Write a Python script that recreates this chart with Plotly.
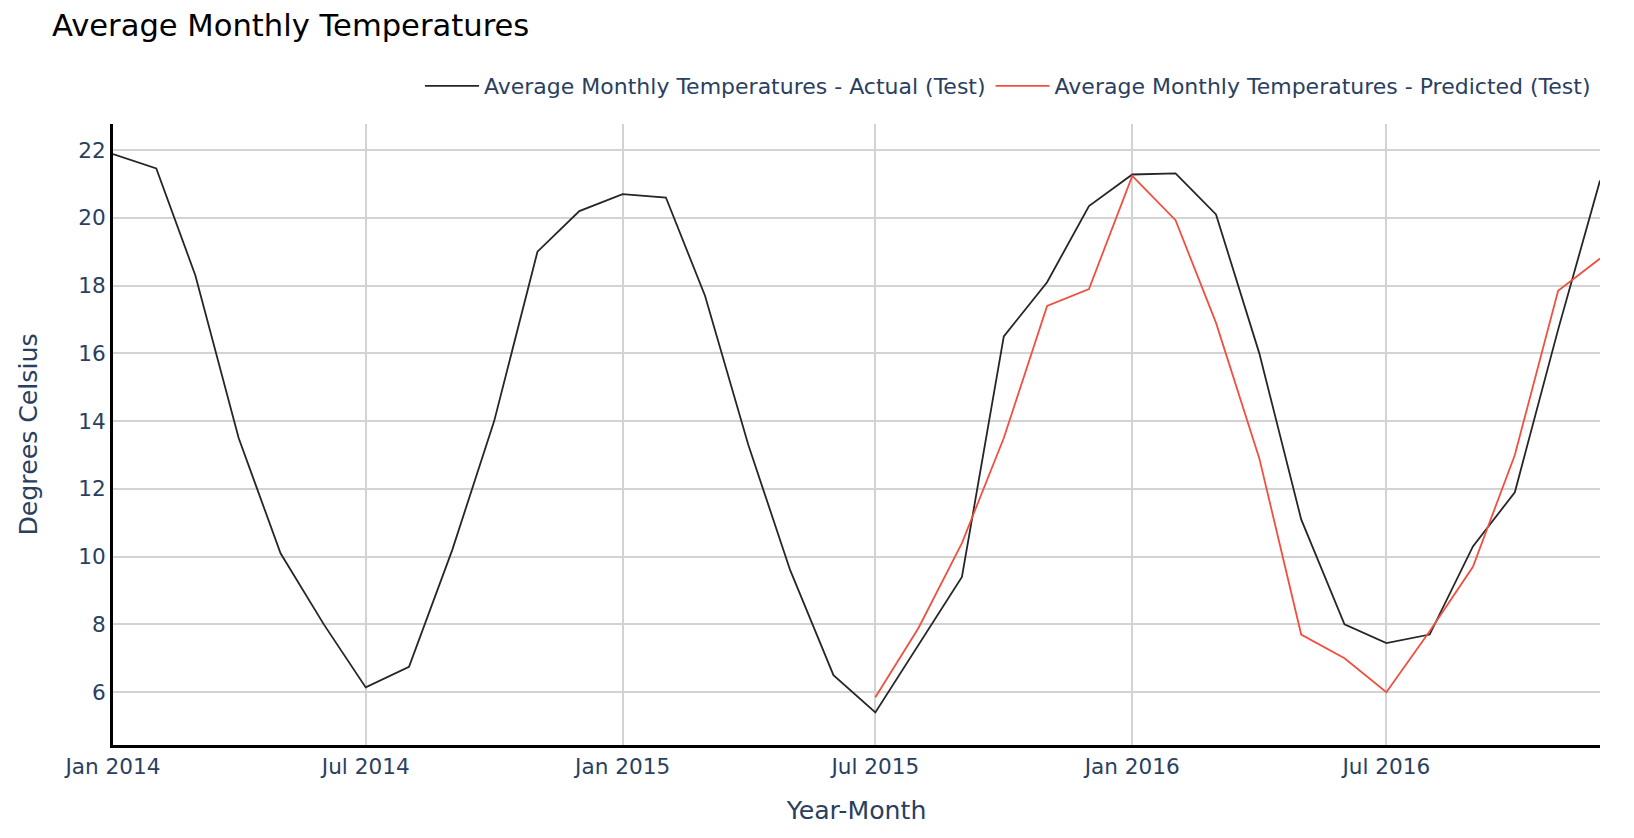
import pandas as pd
import plotly.graph_objects as go

months = pd.date_range("2014-01-01", "2016-12-01", freq="MS")

actual = [21.88, 21.46, 18.3, 13.5, 10.1, 8.0, 6.14, 6.75, 10.2, 14.0, 19.0, 20.2,
          20.7, 20.6, 17.7, 13.3, 9.6, 6.5, 5.4, 7.4, 9.4, 16.5, 18.1, 20.35,
          21.28, 21.31, 20.1, 16.0, 11.1, 8.0, 7.45, 7.7, 10.3, 11.9, 16.7, 21.1]

pred_months = months[18:]
predicted = [5.85, 7.9, 10.4, 13.5, 17.4, 17.9, 21.24, 19.93, 16.9, 12.9, 7.7, 7.0,
             6.0, 7.8, 9.7, 13.0, 17.85, 18.8]

y_ticks = [6, 8, 10, 12, 14, 16, 18, 20, 22]

FONT = "DejaVu Sans"
S = 1.8  # scale of the reference rendering

fig = go.Figure()
fig.add_trace(go.Scatter(x=months, y=actual, mode="lines",
                         name="Average Monthly Temperatures - Actual (Test)",
                         line=dict(color="#262626", width=1.8)))
fig.add_trace(go.Scatter(x=pred_months, y=predicted, mode="lines",
                         name="Average Monthly Temperatures - Predicted (Test)",
                         line=dict(color="#F0503F", width=1.8)))

fig.update_layout(
    width=1634, height=838,
    template="plotly_white",
    paper_bgcolor="white", plot_bgcolor="white",
    margin=dict(l=105, r=42, t=116, b=101, autoexpand=False),
    font=dict(family=FONT, color="#2a3f5f", size=12 * S),
    title=dict(text="Average Monthly Temperatures", x=44/1634, xanchor="left",
               y=1-17/838, yanchor="middle",
               font=dict(family=FONT, size=17 * S, color="black")),
    legend=dict(orientation="h", x=1-4/1487, xanchor="right", y=1+38/621, yanchor="middle",
                font=dict(family=FONT, size=22, color="#2a3f5f"),
                itemwidth=54,
                bgcolor="rgba(0,0,0,0)"),
    showlegend=True,
)
fig.update_xaxes(
    title=dict(text="Year-Month", standoff=24,
               font=dict(family=FONT, size=14 * S, color="#2a3f5f")),
    dtick="M6", tick0="2014-01-01", tickformat="%b %Y",
    tickfont=dict(family=FONT, size=12 * S, color="#2a3f5f"),
    showgrid=True, gridcolor="#d3d3d3", gridwidth=1.8,
    showline=True, linecolor="black", linewidth=3,
    range=[months[0], months[-1]], zeroline=False, automargin=False,
)
fig.update_yaxes(
    title=dict(text="Degrees Celsius", standoff=34,
               font=dict(family=FONT, size=14 * S, color="#2a3f5f")),
    tickvals=y_ticks,
    tickfont=dict(family=FONT, size=12 * S, color="#2a3f5f"),
    showgrid=True, gridcolor="#d3d3d3", gridwidth=1.8,
    showline=True, linecolor="black", linewidth=3,
    range=[4.44, 22.77], zeroline=False, automargin=False,
)

fig.write_html("out.html")
